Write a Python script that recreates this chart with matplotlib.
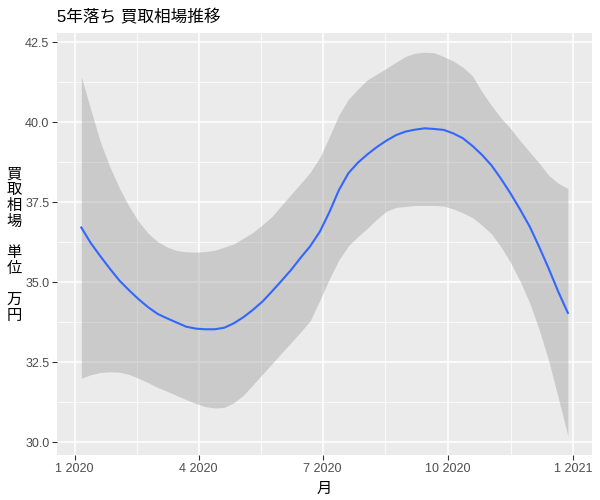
import numpy as np
import pandas as pd
import matplotlib
matplotlib.use("Agg")
import matplotlib.pyplot as plt
import matplotlib.dates as mdates
from matplotlib.ticker import FixedLocator, FuncFormatter

plt.rcParams['font.family'] = ['Liberation Sans', 'Noto Sans CJK JP', 'DejaVu Sans']

title = "5年落ち 買取相場推移"
xlabel = "月"
ylabel = "買\n取\n相\n場\n\n単\n位\n\n万\n円"

dates = ["2020-01-06", "2020-01-13", "2020-01-20", "2020-01-27",
         "2020-02-03", "2020-02-10", "2020-02-17", "2020-02-24",
         "2020-03-02", "2020-03-09", "2020-03-16", "2020-03-23", "2020-03-30",
         "2020-04-06", "2020-04-13", "2020-04-20", "2020-04-27",
         "2020-05-04", "2020-05-11", "2020-05-18", "2020-05-25",
         "2020-06-01", "2020-06-08", "2020-06-15", "2020-06-22", "2020-06-29",
         "2020-07-06", "2020-07-13", "2020-07-20", "2020-07-27",
         "2020-08-03", "2020-08-10", "2020-08-17", "2020-08-24", "2020-08-31",
         "2020-09-07", "2020-09-14", "2020-09-21", "2020-09-28",
         "2020-10-05", "2020-10-12", "2020-10-19", "2020-10-26",
         "2020-11-02", "2020-11-09", "2020-11-16", "2020-11-23", "2020-11-30",
         "2020-12-07", "2020-12-14", "2020-12-21", "2020-12-28"]
fit = [36.71, 36.22, 35.81, 35.42, 35.05, 34.75, 34.47, 34.22, 34.01, 33.87,
       33.74, 33.61, 33.55, 33.53, 33.53, 33.58, 33.72, 33.91, 34.14, 34.40,
       34.72, 35.05, 35.39, 35.77, 36.13, 36.58, 37.19, 37.88, 38.41, 38.74,
       39.00, 39.23, 39.43, 39.60, 39.71, 39.77, 39.81, 39.79, 39.76, 39.65,
       39.50, 39.26, 38.98, 38.65, 38.23, 37.77, 37.27, 36.74, 36.10, 35.42,
       34.70, 34.04]
upper = [41.42, 40.39, 39.38, 38.60, 37.94, 37.37, 36.90, 36.53, 36.27, 36.10,
         35.99, 35.95, 35.94, 35.96, 36.00, 36.10, 36.20, 36.38, 36.56, 36.80,
         37.06, 37.41, 37.75, 38.09, 38.44, 38.90, 39.55, 40.23, 40.72, 41.04,
         41.33, 41.51, 41.69, 41.88, 42.06, 42.16, 42.19, 42.17, 42.05, 41.91,
         41.72, 41.45, 40.95, 40.52, 40.13, 39.80, 39.42, 39.07, 38.72, 38.34,
         38.09, 37.93]
lower = [32.00, 32.11, 32.18, 32.20, 32.19, 32.12, 32.00, 31.86, 31.71, 31.59,
         31.46, 31.33, 31.21, 31.11, 31.07, 31.09, 31.24, 31.47, 31.80, 32.13,
         32.46, 32.79, 33.12, 33.45, 33.80, 34.44, 35.10, 35.70, 36.14, 36.43,
         36.69, 36.98, 37.22, 37.34, 37.37, 37.40, 37.40, 37.40, 37.38, 37.29,
         37.17, 37.02, 36.78, 36.51, 36.10, 35.61, 35.03, 34.35, 33.51, 32.54,
         31.38, 30.20]
x_breaks = ["2020-01-01", "2020-04-01", "2020-07-01", "2020-10-01", "2021-01-01"]
y_breaks = [30.0, 32.5, 35.0, 37.5, 40.0, 42.5]

x = pd.to_datetime(dates)
xb = mdates.date2num(pd.to_datetime(x_breaks))

fig = plt.figure(figsize=(6, 5), dpi=100)
ax = fig.add_axes([0.095, 0.09, 0.892, 0.844])
ax.set_facecolor("#EBEBEB")
for s in ax.spines.values():
    s.set_visible(False)

ax.fill_between(x, lower, upper, color="#999999", alpha=0.4, linewidth=0, zorder=2)
ax.plot(x, fit, color="#3366FF", lw=1.5, zorder=3)

xn = mdates.date2num(x)
xr = xn[-1] - xn[0]
ax.set_xlim(xn[0] - 0.05 * xr, xn[-1] + 0.05 * xr)
ymin, ymax = min(lower), max(upper)
yr = ymax - ymin
ax.set_ylim(ymin - 0.05 * yr, ymax + 0.05 * yr)

ax.xaxis.set_major_locator(FixedLocator(xb))
ax.xaxis.set_minor_locator(FixedLocator((xb[:-1] + xb[1:]) / 2))
ax.xaxis.set_major_formatter(FuncFormatter(
    lambda v, p: f"{mdates.num2date(v).month} {mdates.num2date(v).year}"))
yb = np.array(y_breaks)
ax.yaxis.set_major_locator(FixedLocator(yb))
ax.yaxis.set_minor_locator(FixedLocator((yb[:-1] + yb[1:]) / 2))
ax.yaxis.set_major_formatter(FuncFormatter(lambda v, p: f"{v:.1f}"))

ax.grid(which="major", color="white", lw=1.1, zorder=1)
ax.grid(which="minor", color="white", lw=0.55, zorder=1)
ax.set_axisbelow(True)
ax.tick_params(which="major", length=3.5, width=0.8, color="#333333",
               labelcolor="#4D4D4D", labelsize=9, pad=2)
ax.tick_params(which="minor", length=0)

ax.set_xlabel(xlabel, fontsize=11, color="black", labelpad=5)
fig.text(14 / 600, 1 - 245 / 500, ylabel, fontsize=11, color="black",
         ha="center", va="center", linespacing=1.15)
ax.set_title(title, fontsize=12, loc="left", color="black", pad=8)

fig.savefig("out.png", dpi=100)
